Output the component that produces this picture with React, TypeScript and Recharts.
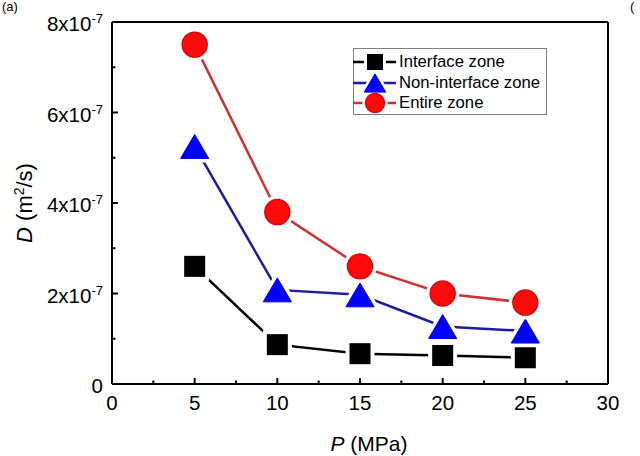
import React from "react";
import { LineChart, Line, XAxis, YAxis, ReferenceLine, Legend } from "recharts";

// pressure (MPa) and diffusion coefficient D (m^2/s)
const P_VALUES = [5, 10, 15, 20, 25];
const INTERFACE = [2.6e-7, 0.87e-7, 0.67e-7, 0.63e-7, 0.58e-7];
const NON_INTERFACE = [5.25e-7, 2.08e-7, 1.97e-7, 1.27e-7, 1.17e-7];
const ENTIRE = [7.5e-7, 3.8e-7, 2.6e-7, 2.0e-7, 1.8e-7];

const X_TICKS = [0, 2.5, 5, 7.5, 10, 12.5, 15, 17.5, 20, 22.5, 25, 27.5, 30];
const Y_TICKS = [0, 1e-7, 2e-7, 3e-7, 4e-7, 5e-7, 6e-7, 7e-7, 8e-7];

const SERIES = [
  { key: "interface", name: "Interface zone", line: "#000000", fill: "#000000", edge: "#000000", shape: "square" },
  { key: "nonInterface", name: "Non-interface zone", line: "#1c1c9c", fill: "#0000ff", edge: "#0000e0", shape: "triangle" },
  { key: "entire", name: "Entire zone", line: "#cc3333", fill: "#ff0a0a", edge: "#d80000", shape: "circle" },
];

const data = P_VALUES.map((p, i) => ({
  p,
  interface: INTERFACE[i],
  nonInterface: NON_INTERFACE[i],
  entire: ENTIRE[i],
}));

const FONT = '"Liberation Sans", Arial, sans-serif';

function Marker({ shape, cx, cy, fill, edge, size, gap }) {
  if (cx == null || cy == null) return null;
  if (shape === "square") {
    const h = size / 2;
    return (
      <g>
        <rect x={cx - h} y={cy - h} width={size} height={size} fill="#fff" stroke="#fff" strokeWidth={gap * 2} />
        <rect x={cx - h} y={cy - h} width={size} height={size} fill={fill} />
      </g>
    );
  }
  if (shape === "triangle") {
    const w = size * 0.67;
    const h = size * 0.57;
    const pts = `${cx - w},${cy + h} ${cx + w},${cy + h} ${cx},${cy - h}`;
    return (
      <g>
        <polygon points={pts} fill="#fff" stroke="#fff" strokeWidth={gap * 2} strokeLinejoin="round" />
        <polygon points={pts} fill={fill} stroke={edge} strokeWidth={1} />
      </g>
    );
  }
  const r = size * 0.6;
  return (
    <g>
      <circle cx={cx} cy={cy} r={r + gap} fill="#fff" />
      <circle cx={cx} cy={cy} r={r} fill={fill} stroke={edge} strokeWidth={1.2} />
    </g>
  );
}

function XTick({ x, y, payload }) {
  const v = payload.value;
  const major = v % 5 === 0;
  return (
    <g>
      <line x1={x} x2={x} y1={y} y2={y - (major ? 6 : 3.5)} stroke="#000" strokeWidth={2} />
      {major && (
        <text x={x} y={y + 26} textAnchor="middle" fontSize={20.5} fontFamily={FONT} fill="#000">
          {v}
        </text>
      )}
    </g>
  );
}

function YTick({ x, y, payload }) {
  const n = Math.round(payload.value / 1e-7);
  const major = n % 2 === 0;
  return (
    <g>
      <line x1={x} x2={x + (major ? 6 : 3.5)} y1={y} y2={y} stroke="#000" strokeWidth={2} />
      {major && (
        <text x={x - 9} y={y + 9} textAnchor="end" fontSize={20.5} fontFamily={FONT} fill="#000">
          {n === 0 ? (
            "0"
          ) : (
            <>
              <tspan>{`${n}x10`}</tspan>
              <tspan dy={-8} fontSize={13}>-7</tspan>
            </>
          )}
        </text>
      )}
    </g>
  );
}

function XTitle({ viewBox }) {
  const cx = viewBox.x + viewBox.width / 2 + 9;
  return (
    <text x={cx} y={viewBox.y + 67} textAnchor="middle" fontSize={21} fontFamily={FONT} fill="#000">
      <tspan fontStyle="italic">P</tspan>
      <tspan> (MPa)</tspan>
    </text>
  );
}

function YTitle({ viewBox }) {
  const cx = 32;
  const cy = viewBox.y + viewBox.height / 2;
  return (
    <g>
      <text x={cx} y={cy} transform={`rotate(-90, ${cx}, ${cy})`} textAnchor="middle" fontSize={22} fontFamily={FONT} fill="#000">
        <tspan fontStyle="italic">D</tspan>
        <tspan> (m</tspan>
        <tspan dy={-8} fontSize={14}>2</tspan>
        <tspan dy={8}>/s)</tspan>
      </text>
      {/* panel labels at the top edge */}
      <text x={2} y={11} fontSize={13} fontFamily={FONT} fill="#000">(a)</text>
      <text x={630} y={11} fontSize={13} fontFamily={FONT} fill="#000">(</text>
    </g>
  );
}

function LegendBox() {
  return (
    <div
      style={{
        width: 194,
        height: 67,
        boxSizing: "border-box",
        border: "1px solid #808080",
        background: "#fff",
        position: "relative",
        fontFamily: FONT,
      }}
    >
      {SERIES.map((s, i) => (
        <div
          key={s.key}
          style={{ position: "absolute", left: -1, top: 3 + i * 20.5, height: 20, display: "flex", alignItems: "center" }}
        >
          <svg width={44} height={20} style={{ display: "block" }}>
            <line x1={0} x2={43} y1={10} y2={10} stroke={s.line} strokeWidth={2.5} />
            <Marker shape={s.shape} cx={22} cy={10} fill={s.fill} edge={s.edge} size={16} gap={3} />
          </svg>
          <span style={{ fontSize: 16.7, marginLeft: 2, lineHeight: "20px", color: "#000", whiteSpace: "nowrap" }}>
            {s.name}
          </span>
        </div>
      ))}
    </div>
  );
}

export default function App() {
  return (
    <div style={{ position: "absolute", left: 0, top: 0, width: 640, height: 456, background: "#fff" }}>
      <LineChart width={640} height={456} data={data} margin={{ top: 22, right: 32, left: 0, bottom: 0 }}>
        <XAxis
          dataKey="p"
          type="number"
          domain={[0, 30]}
          ticks={X_TICKS}
          interval={0}
          height={72}
          tickSize={0}
          tickMargin={0}
          tickLine={false}
          axisLine={{ stroke: "#000", strokeWidth: 2 }}
          tick={<XTick />}
          label={{ content: (props) => <XTitle {...props} /> }}
        />
        <YAxis
          type="number"
          domain={[0, 8e-7]}
          ticks={Y_TICKS}
          interval={0}
          width={112}
          tickSize={0}
          tickMargin={0}
          tickLine={false}
          axisLine={{ stroke: "#000", strokeWidth: 2 }}
          tick={<YTick />}
          label={{ content: (props) => <YTitle {...props} /> }}
        />
        <ReferenceLine y={8e-7} stroke="#000" strokeWidth={2} />
        <ReferenceLine x={30} stroke="#000" strokeWidth={2} />
        <Legend
          layout="vertical"
          align="center"
          verticalAlign="middle"
          content={() => <LegendBox />}
          wrapperStyle={{ left: 353, top: 48, width: 194, height: 67 }}
        />
        {SERIES.map((s) => (
          <Line
            key={s.key}
            dataKey={s.key}
            name={s.name}
            type="linear"
            stroke={s.line}
            strokeWidth={2.5}
            isAnimationActive={false}
            activeDot={false}
            dot={(props) => (
              <Marker
                key={`${s.key}-${props.index}`}
                shape={s.shape}
                cx={props.cx}
                cy={props.cy}
                fill={s.fill}
                edge={s.edge}
                size={21}
                gap={4}
              />
            )}
          />
        ))}
      </LineChart>
    </div>
  );
}
